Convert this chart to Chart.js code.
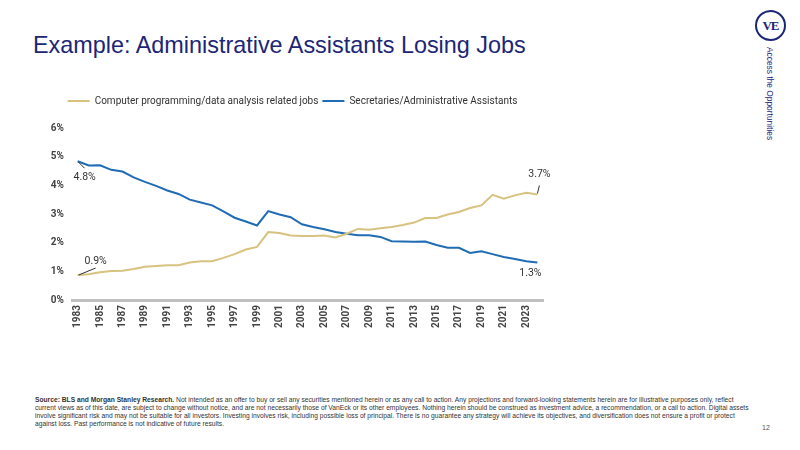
<!DOCTYPE html>
<html>
<head>
<meta charset="utf-8">
<script src="https://cdn.jsdelivr.net/npm/chart.js@4"></script>
<style>
  html, body { margin: 0; padding: 0; background: #fff; }
  body { width: 800px; height: 450px; position: relative; overflow: hidden; font-family: "Liberation Sans", Arial, sans-serif; }
  #title { position: absolute; left: 33px; top: 32px; font-size: 23.4px; color: #1c2677; white-space: nowrap; }
  #wrap { position: absolute; left: 30px; top: 92px; width: 530px; height: 248px; }
  #logo { position: absolute; left: 755px; top: 10px; width: 27px; height: 27px; border: 2px solid #1c2677; border-radius: 50%; color: #1c2677; font-family: "Liberation Serif", serif; font-weight: bold; font-size: 13px; text-align: center; line-height: 27px; letter-spacing: -1px; }
  #tag { position: absolute; left: 770px; top: 47px; transform-origin: 0 0; transform: rotate(90deg) translateY(-50%); font-size: 8.4px; color: #1c2677; white-space: nowrap; }
  #foot { position: absolute; left: 35px; top: 396px; white-space: nowrap; font-size: 8px; line-height: 8px; color: #333; transform-origin: 0 0; transform: scaleX(0.835); }
  #page { position: absolute; left: 762px; top: 424px; font-size: 7px; color: #555; }
</style>
</head>
<body>
<div id="title">Example: Administrative Assistants Losing Jobs</div>
<div id="logo">VE</div>
<div id="tag">Access the Opportunities</div>
<div id="wrap"><canvas id="c"></canvas></div>
<div id="foot"><b>Source: BLS and Morgan Stanley Research.</b> Not intended as an offer to buy or sell any securities mentioned herein or as any call to action. Any projections and forward-looking statements herein are for illustrative purposes only, reflect<br>current views as of this date, are subject to change without notice, and are not necessarily those of VanEck or its other employees. Nothing herein should be construed as investment advice, a recommendation, or a call to action. Digital assets<br>involve significant risk and may not be suitable for all investors. Investing involves risk, including possible loss of principal. There is no guarantee any strategy will achieve its objectives, and diversification does not ensure a profit or protect<br>against loss. Past performance is not indicative of future results.</div>
<div id="page">12</div>
<script>
const years = [1983,1984,1985,1986,1987,1988,1989,1990,1991,1992,1993,1994,1995,1996,1997,1998,1999,2000,2001,2002,2003,2004,2005,2006,2007,2008,2009,2010,2011,2012,2013,2014,2015,2016,2017,2018,2019,2020,2021,2022,2023,2024];
const computerJobs = [0.87,0.90,0.97,1.01,1.02,1.08,1.16,1.19,1.21,1.21,1.31,1.35,1.35,1.47,1.60,1.76,1.85,2.37,2.34,2.25,2.23,2.23,2.25,2.18,2.31,2.48,2.45,2.50,2.55,2.62,2.70,2.86,2.86,2.98,3.07,3.21,3.30,3.67,3.53,3.65,3.74,3.68];
const secretaries = [4.84,4.69,4.70,4.54,4.48,4.28,4.12,3.98,3.82,3.70,3.50,3.40,3.30,3.09,2.87,2.74,2.60,3.10,2.98,2.89,2.64,2.55,2.47,2.37,2.31,2.26,2.26,2.20,2.05,2.04,2.03,2.04,1.92,1.82,1.82,1.64,1.70,1.60,1.50,1.43,1.35,1.31];
const seriesNames = ["Computer programming/data analysis related jobs", "Secretaries/Administrative Assistants"];
const yTicks = [0,1,2,3,4,5,6];

const GOLD = "#d7c27f";
const BLUE = "#1f6cb5";
const FONT = '"Roboto", "Liberation Sans", sans-serif';

const legendSpace = {
  id: "legendSpace",
  beforeLayout(chart) {
    const lg = chart.legend;
    if (lg && !lg._spaced) {
      const fit = lg.fit;
      lg.fit = function() { fit.call(this); this.height += 12; };
      lg._spaced = true;
    }
  }
};

const endLabels = {
  id: "endLabels",
  afterDatasetsDraw(chart) {
    const ctx = chart.ctx;
    ctx.save();
    ctx.font = "10.5px " + FONT;
    ctx.fillStyle = "#333";
    ctx.strokeStyle = "#333";
    ctx.lineWidth = 1;
    ctx.textAlign = "center";
    ctx.textBaseline = "middle";
    const g = chart.getDatasetMeta(0).data;
    const b = chart.getDatasetMeta(1).data;
    const gd = chart.data.datasets[0].data, bd = chart.data.datasets[1].data;
    const n = gd.length - 1;
    const fmt = v => v.toFixed(1) + "%";
    let p = b[0];
    ctx.beginPath(); ctx.moveTo(p.x + 1, p.y + 1); ctx.lineTo(p.x + 7, p.y + 7); ctx.stroke();
    ctx.fillText(fmt(bd[0]), p.x + 7, p.y + 16);
    p = g[0];
    ctx.beginPath(); ctx.moveTo(p.x + 1, p.y); ctx.lineTo(p.x + 18, p.y - 7); ctx.stroke();
    ctx.fillText(fmt(gd[0]), p.x + 18, p.y - 14);
    p = g[n];
    ctx.beginPath(); ctx.moveTo(p.x, p.y - 1); ctx.lineTo(p.x + 2, p.y - 9); ctx.stroke();
    ctx.fillText(fmt(gd[n]), p.x + 2, p.y - 20);
    p = b[n];
    ctx.fillText(fmt(bd[n]), p.x - 7, p.y + 11);
    ctx.restore();
  }
};

new Chart(document.getElementById("c"), {
  type: "line",
  data: {
    labels: years,
    datasets: [
      { label: seriesNames[0], data: computerJobs, borderColor: GOLD, backgroundColor: GOLD, borderWidth: 2, pointRadius: 0, tension: 0 },
      { label: seriesNames[1], data: secretaries, borderColor: BLUE, backgroundColor: BLUE, borderWidth: 2, pointRadius: 0, tension: 0 }
    ]
  },
  options: {
    responsive: true,
    maintainAspectRatio: false,
    animation: false,
    layout: { padding: { left: 12, right: 17, top: 0, bottom: 0 } },
    plugins: {
      legend: {
        display: true,
        position: "top",
        labels: {
          font: { family: FONT, size: 10 }, color: "#333", boxWidth: 22, boxHeight: 2, padding: 4,
          generateLabels: chart => Chart.defaults.plugins.legend.labels.generateLabels(chart).map(l => Object.assign(l, { lineWidth: 0 }))
        }
      },
      tooltip: { enabled: false },
      title: { display: false }
    },
    scales: {
      x: {
        type: "category",
        offset: true,
        grid: { display: false, drawTicks: false },
        border: { display: true, color: "#bfbfbf", width: 3 },
        ticks: {
          autoSkip: false, minRotation: 90, maxRotation: 90, padding: 5,
          font: { family: FONT, size: 10, weight: "bold" }, color: "#444",
          callback: function(v, i) { return i % 2 === 0 ? this.getLabelForValue(v) : ""; }
        },
        afterFit: s => { s.height = 40; }
      },
      y: {
        min: 0, max: 6,
        afterBuildTicks: s => { s.ticks = yTicks.map(v => ({ value: v })); },
        grid: { display: false, drawTicks: false },
        border: { display: false },
        ticks: { padding: 8, font: { family: FONT, size: 10, weight: "bold" }, color: "#444", callback: v => v + "%" },
        afterFit: s => { s.width = 30; }
      }
    }
  },
  plugins: [legendSpace, endLabels]
});
</script>
</body>
</html>
